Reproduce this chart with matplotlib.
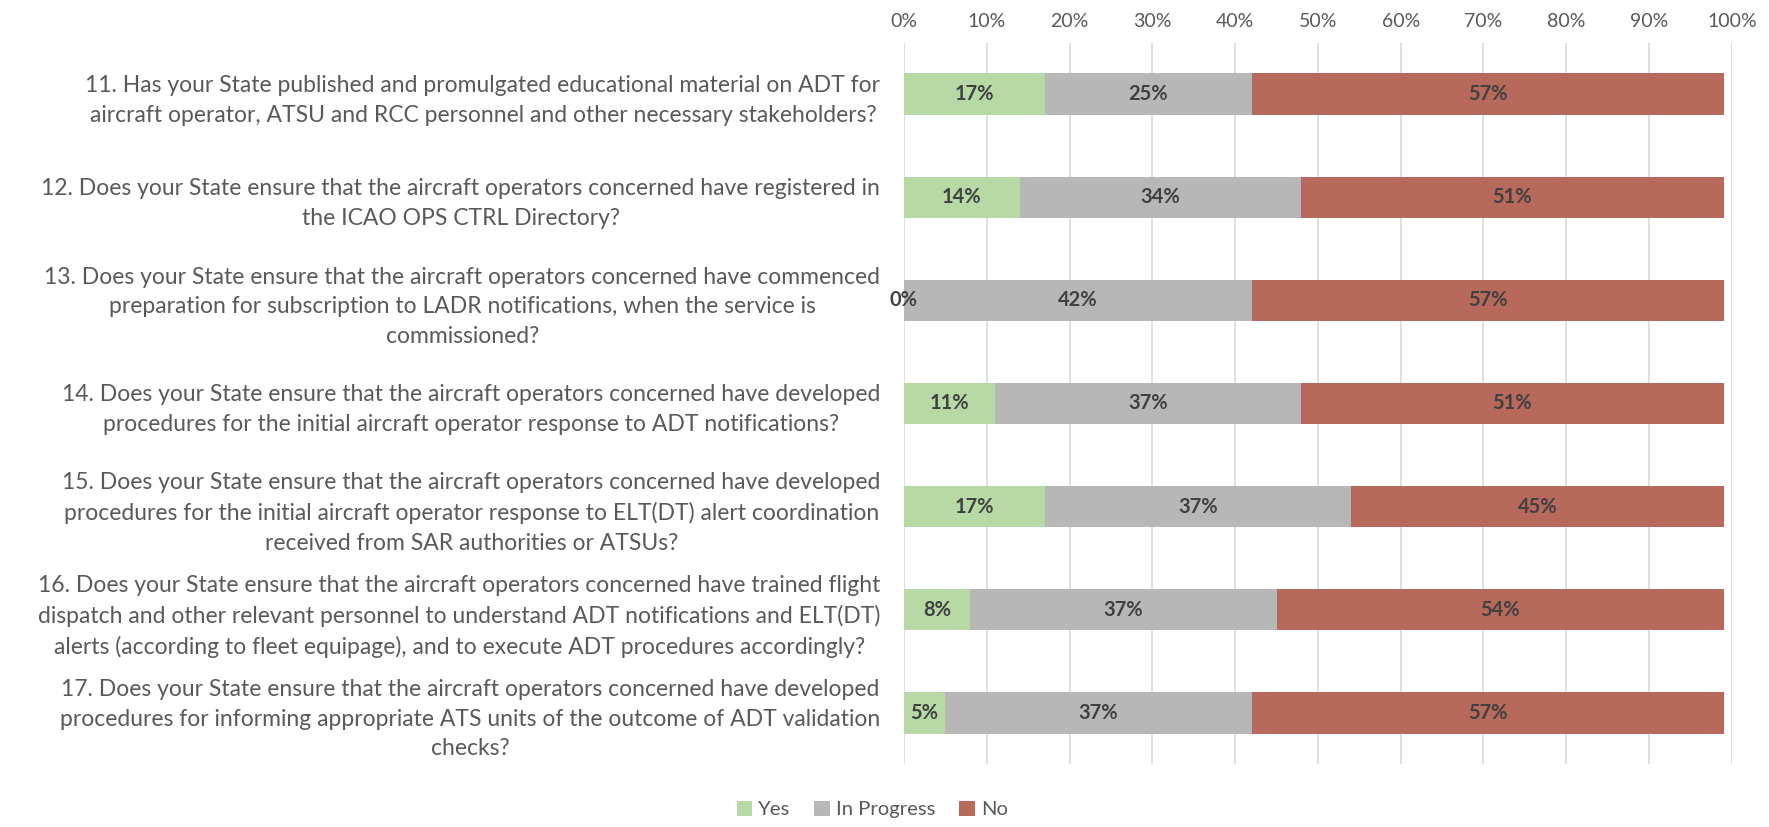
import matplotlib
matplotlib.use("Agg")
import matplotlib.pyplot as plt
from matplotlib.patches import Patch
import numpy as np

plt.rcParams['font.family'] = ['Lato', 'DejaVu Sans']

questions = [
    "11. Has your State published and promulgated educational material on ADT for\naircraft operator, ATSU and RCC personnel and other necessary stakeholders?",
    "12. Does your State ensure that the aircraft operators concerned have registered in\nthe ICAO OPS CTRL Directory?",
    "13. Does your State ensure that the aircraft operators concerned have commenced\npreparation for subscription to LADR notifications, when the service is\ncommissioned?",
    "14. Does your State ensure that the aircraft operators concerned have developed\nprocedures for the initial aircraft operator response to ADT notifications?",
    "15. Does your State ensure that the aircraft operators concerned have developed\nprocedures for the initial aircraft operator response to ELT(DT) alert coordination\nreceived from SAR authorities or ATSUs?",
    "16. Does your State ensure that the aircraft operators concerned have trained flight\ndispatch and other relevant personnel to understand ADT notifications and ELT(DT)\nalerts (according to fleet equipage), and to execute ADT procedures accordingly?",
    "17. Does your State ensure that the aircraft operators concerned have developed\nprocedures for informing appropriate ATS units of the outcome of ADT validation\nchecks?",
]
yes = [17, 14, 0, 11, 17, 8, 5]
in_progress = [25, 34, 42, 37, 37, 37, 37]
no = [57, 51, 57, 51, 45, 54, 57]
series_names = ["Yes", "In Progress", "No"]
colors = ["#B7D9A5", "#B7B7B7", "#B7695C"]
xticks = np.arange(0, 101, 10)

fig = plt.figure(figsize=(17.69, 8.27), dpi=100)
ax = fig.add_axes([0.511, 0.0756, 0.979 - 0.511, 0.9486 - 0.0756])

y = np.arange(len(questions))
left = np.zeros(len(questions))
for vals, name, c in zip([yes, in_progress, no], series_names, colors):
    vals = np.array(vals, dtype=float)
    bars = ax.barh(y, vals, left=left, height=0.4, color=c, label=name, zorder=3)
    ax.bar_label(bars, labels=[f"{int(v)}%" for v in vals], label_type='center',
                 fontsize=14.5, fontweight='bold', color='#404040', zorder=4)
    left += vals

ax.set_xlim(0, 100)
ax.set_ylim(len(questions) - 0.5, -0.5)
ax.set_xticks(xticks)
ax.set_xticklabels([f"{v}%" for v in xticks])
ax.xaxis.tick_top()
ax.tick_params(axis='x', length=0, pad=9, labelsize=14, labelcolor='#595959')
ax.set_yticks(y)
ax.set_yticklabels(questions, fontsize=16.5, color='#595959', multialignment='center',
                   linespacing=1.5)
ax.tick_params(axis='y', length=0, pad=17)
ax.grid(axis='x', color='#D9D9D9', linewidth=1.2, zorder=0)
for s in ax.spines.values():
    s.set_visible(False)

handles = [Patch(facecolor=c, edgecolor='none') for c in colors]
fig.legend(handles, series_names, loc='center', bbox_to_anchor=(0.493, 0.021), ncol=3,
           frameon=False, fontsize=14.6, handlelength=0.75, handleheight=0.75,
           handletextpad=0.3, columnspacing=1.2, labelcolor='#595959')

fig.savefig("out.png", dpi=100)
